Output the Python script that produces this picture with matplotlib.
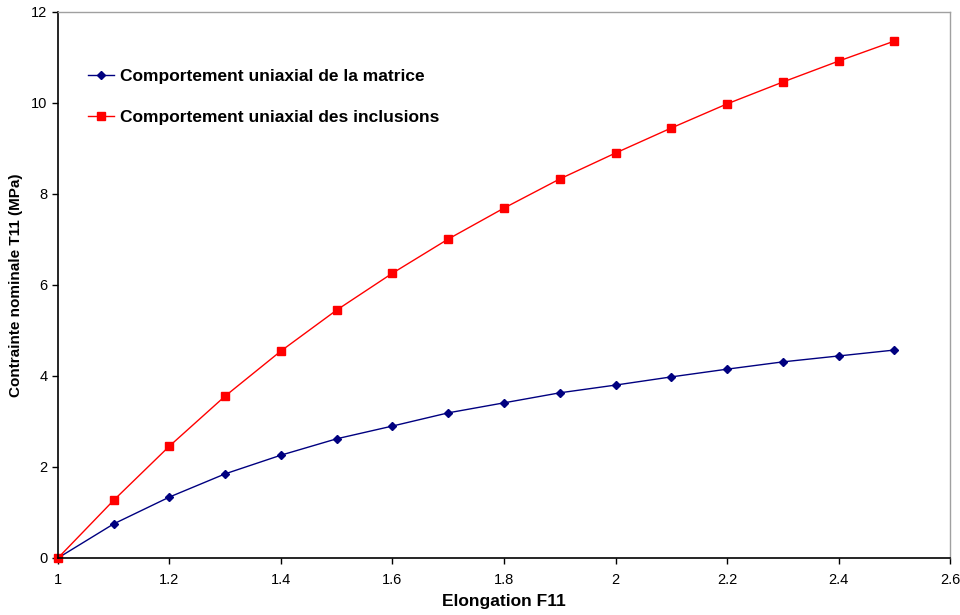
import matplotlib
matplotlib.use("Agg")
import matplotlib.pyplot as plt

plt.rcParams['font.family'] = ['Liberation Sans', 'DejaVu Sans']

elongation = [1.0, 1.1, 1.2, 1.3, 1.4, 1.5, 1.6, 1.7, 1.8, 1.9, 2.0, 2.1, 2.2, 2.3, 2.4, 2.5]
matrice = [0.0, 0.75, 1.34, 1.85, 2.26, 2.62, 2.90, 3.19, 3.41, 3.63, 3.80, 3.98, 4.15, 4.31, 4.44, 4.57]
inclusions = [0.0, 1.27, 2.46, 3.56, 4.55, 5.45, 6.26, 7.01, 7.69, 8.33, 8.90, 9.45, 9.98, 10.46, 10.92, 11.36]

xticks = [1, 1.2, 1.4, 1.6, 1.8, 2, 2.2, 2.4, 2.6]
xticklabels = ['1', '1.2', '1.4', '1.6', '1.8', '2', '2.2', '2.4', '2.6']
yticks = [0, 2, 4, 6, 8, 10, 12]

fig = plt.figure(figsize=(9.6, 6.15), dpi=100)
ax = fig.add_axes([0.0604, 0.0927, 0.9292, 0.8878])

ax.plot(elongation, matrice, color='#000080', marker='D', markersize=4.5, linewidth=1.0,
        label='Comportement uniaxial de la matrice')
ax.plot(elongation, inclusions, color='#ff0000', marker='s', markersize=6, linewidth=1.0,
        label='Comportement uniaxial des inclusions', clip_on=False)

ax.set_xlim(1, 2.6)
ax.set_ylim(0, 12)
ax.set_xticks(xticks)
ax.set_xticklabels(xticklabels)
ax.set_yticks(yticks)
ax.tick_params(direction='out', length=4, width=1, labelsize=10.5, colors='black')
ax.tick_params(axis='x', pad=7)

for side in ['top', 'right']:
    ax.spines[side].set_color('#a0a0a0')
    ax.spines[side].set_linewidth(1.0)
for side in ['left', 'bottom']:
    ax.spines[side].set_color('black')
    ax.spines[side].set_linewidth(1.2)

ax.set_xlabel('Elongation F11', fontsize=12.5, fontweight='bold', labelpad=5)
ax.set_ylabel('Contrainte nominale T11 (MPa)', fontsize=11, fontweight='bold', labelpad=6)

leg = ax.legend(loc='upper left', bbox_to_anchor=(0.016, 0.925), frameon=False,
                prop={'size': 12.5, 'weight': 'bold'}, handlelength=1.5,
                handletextpad=0.35, labelspacing=1.5)

fig.savefig('out.png', dpi=100)
